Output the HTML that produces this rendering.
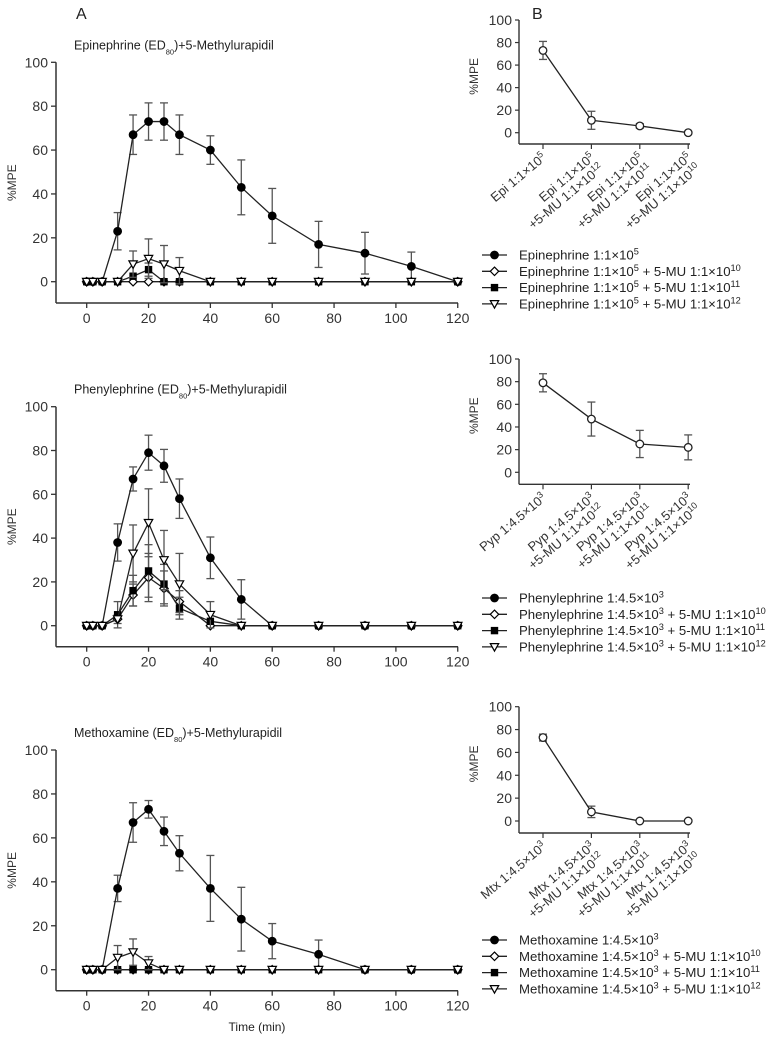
<!DOCTYPE html>
<html><head><meta charset="utf-8"><style>
html,body{margin:0;padding:0;background:#fff;}
svg{display:block;font-family:"Liberation Sans",sans-serif;}
</style></head><body>
<svg id="fig" width="773" height="1037" viewBox="0 0 773 1037"></svg>
<script>
// ---- data ----
const times = [0,2,5,10,15,20,25,30,40,50,60,75,90,105,120];
const xTicks = [0,20,40,60,80,100,120];
const yTicks = [0,20,40,60,80,100];

const epiCtrl   = [0,0,0,23,67,73,73,67,60,43,30,17,13,7,0];
const epiCtrlE  = [0,0,0,8.5,9,8.5,8.5,9,6.5,12.5,12.5,10.5,9.5,6.5,0];
const epi10     = [0,0,0,0,0,0,0,0,0,0,0,0,0,0,0];
const epi10E    = [0,0,0,0,0,0,0,0,0,0,0,0,0,0,0];
const epi11     = [0,0,0,0,2.5,5.5,0,0,0,0,0,0,0,0,0];
const epi11E    = [0,0,0,0,0,3,0,0,0,0,0,0,0,0,0];
const epi12     = [0,0,0,0,8,10.5,8,5,0,0,0,0,0,0,0];
const epi12E    = [0,0,0,0,6,9,8.5,6,0,0,0,0,0,0,0];

const pheCtrl   = [0,0,0,38,67,79,73,58,31,12,0,0,0,0,0];
const pheCtrlE  = [0,0,0,8.5,5.5,8,7.5,9,9.5,9,0,0,0,0,0];
const phe10     = [0,0,0,3,14,22,17,11,0,0,0,0,0,0,0];
const phe10E    = [0,0,0,2,5,11,8,5,0,0,0,0,0,0,0];
const phe11     = [0,0,0,5,16,25,19,8,2,0,0,0,0,0,0];
const phe11E    = [0,0,0,6,7,12,9,5,0,0,0,0,0,0,0];
const phe12     = [0,0,0,3,33,47,30,19,5,0,0,0,0,0,0];
const phe12E    = [0,0,0,0,13,15.5,13.5,14,6,0,0,0,0,0,0];

const mtxCtrl   = [0,0,0,37,67,73,63,53,37,23,13,7,0,0,0];
const mtxCtrlE  = [0,0,0,6,9,4,6.5,8,15,14.5,8,6.5,0,0,0];
const mtx10     = [0,0,0,0,0,0,0,0,0,0,0,0,0,0,0];
const mtx10E    = [0,0,0,0,0,0,0,0,0,0,0,0,0,0,0];
const mtx11     = [0,0,0,0,0,0,0,0,0,0,0,0,0,0,0];
const mtx11E    = [0,0,0,0,0,0,0,0,0,0,0,0,0,0,0];
const mtx12     = [0,0,0,5.5,8,3,0,0,0,0,0,0,0,0,0];
const mtx12E    = [0,0,0,5.5,6,3,0,0,0,0,0,0,0,0,0];

const epiB  = [73,11,6,0];  const epiBE = [8,8,2,0];
const pheB  = [79,47,25,22]; const pheBE = [8,15,12,11];
const mtxB  = [73,8,0,0];   const mtxBE = [3,5,0,0];

// ---- drawing ----
const NS="http://www.w3.org/2000/svg";
const svg=document.getElementById('fig');
function el(tag,attrs,parent){const e=document.createElementNS(NS,tag);for(const k in attrs)e.setAttribute(k,attrs[k]);(parent||svg).appendChild(e);return e;}
function rich(parent,segs){
  segs.forEach(s=>{const t=document.createElementNS(NS,'tspan');t.textContent=s[0];
    if(s[1]==='sup'){t.setAttribute('baseline-shift','super');t.setAttribute('font-size','70%');}
    if(s[1]==='sub'){t.setAttribute('baseline-shift','sub');t.setAttribute('font-size','60%');}
    parent.appendChild(t);});
}
const TXT='#333';
function marker(g,type,x,y){
  let m;
  if(type==='circle'){m=el('circle',{cx:x,cy:y,r:3.9,fill:'#000',stroke:'#000'},g);}
  else if(type==='ocircle'){m=el('circle',{cx:x,cy:y,r:3.8,fill:'#fff',stroke:'#222','stroke-width':1.3},g);}
  else if(type==='diamond'){m=el('polygon',{points:`${x},${y-4.2} ${x+4.2},${y} ${x},${y+4.2} ${x-4.2},${y}`,fill:'#fff',stroke:'#000','stroke-width':1.2},g);}
  else if(type==='square'){m=el('rect',{x:x-3.7,y:y-3.7,width:7.4,height:7.4,fill:'#000'},g);}
  else {m=el('polygon',{points:`${x-4.2},${y-3.3} ${x+4.2},${y-3.3} ${x},${y+4.2}`,fill:'#fff',stroke:'#000','stroke-width':1.2},g);}
  return m;
}
function drawSeries(g,xf,yf,xs,vals,errs,type,name){
  const sg=el('g',{},g);
  
  
  vals.forEach((v,i)=>{ if(errs[i]>0){const x=xf(xs[i]);const y1=yf(v+errs[i]),y2=yf(v-errs[i]);
    el('line',{x1:x,y1:y1,x2:x,y2:y2,stroke:'#555','stroke-width':1.3},sg);
    el('line',{x1:x-4,y1:y1,x2:x+4,y2:y1,stroke:'#555','stroke-width':1.3},sg);
    el('line',{x1:x-4,y1:y2,x2:x+4,y2:y2,stroke:'#555','stroke-width':1.3},sg);}});
  const pts=vals.map((v,i)=>xf(xs[i])+','+yf(v)).join(' ');
  el('polyline',{points:pts,fill:'none',stroke:'#222','stroke-width':1.3},sg);
  vals.forEach((v,i)=>{const m=marker(sg,type,xf(xs[i]),yf(v));
    
    });
}
function panelA(cfg){
  const g=el('g',{});
  
  
  const xf=t=>86.7+t*3.092;
  const yf=v=>cfg.y0-v*(cfg.y0-cfg.y100)/100;
  el('line',{x1:56,y1:cfg.y100,x2:56,y2:cfg.axisY,stroke:'#333','stroke-width':1.5},g);
  el('line',{x1:56,y1:cfg.axisY,x2:458,y2:cfg.axisY,stroke:'#333','stroke-width':1.5},g);
  yTicks.forEach(v=>{el('line',{x1:51,y1:yf(v),x2:56,y2:yf(v),stroke:'#333','stroke-width':1.3},g);
    const t=el('text',{x:48,y:yf(v)+5,'text-anchor':'end','font-size':14,fill:TXT},g);t.textContent=v;
    
    });
  xTicks.forEach(v=>{el('line',{x1:xf(v),y1:cfg.axisY,x2:xf(v),y2:cfg.axisY+5,stroke:'#333','stroke-width':1.3},g);
    const t=el('text',{x:xf(v),y:cfg.axisY+20,'text-anchor':'middle','font-size':14,fill:TXT},g);t.textContent=v;
    
    });
  const yl=el('text',{x:0,y:0,transform:`translate(16,${(cfg.y100+cfg.axisY)/2}) rotate(-90)`,'text-anchor':'middle','font-size':12,fill:TXT},g);yl.textContent='%MPE';
  
  
  const ti=el('text',{x:74,y:cfg.y100-13,'font-size':12.5,fill:'#222'},g);
  rich(ti,[[cfg.drug+' (ED',''],['80','sub'],[')+5-Methylurapidil','']]);
  
  
  const types=['circle','diamond','square','triangle'];
  const names=['series-control','series-5mu-1e10','series-5mu-1e11','series-5mu-1e12'];
  cfg.series.forEach((s,k)=>drawSeries(g,xf,yf,times,s[0],s[1],types[k],names[k]));
}
function panelB(cfg){
  const g=el('g',{});
  
  
  const xf=i=>543+i*48.4;
  const yf=v=>cfg.y0-v*(cfg.y0-cfg.y100)/100;
  el('line',{x1:519,y1:cfg.y100,x2:519,y2:cfg.axisY,stroke:'#333','stroke-width':1.4},g);
  el('line',{x1:519,y1:cfg.axisY,x2:690,y2:cfg.axisY,stroke:'#333','stroke-width':1.4},g);
  yTicks.forEach(v=>{el('line',{x1:515,y1:yf(v),x2:519,y2:yf(v),stroke:'#333','stroke-width':1.2},g);
    const t=el('text',{x:512,y:yf(v)+5,'text-anchor':'end','font-size':14,fill:TXT},g);t.textContent=v;
    
    });
  const yl=el('text',{x:0,y:0,transform:`translate(478,${(cfg.y100+cfg.y0)/2}) rotate(-90)`,'text-anchor':'middle','font-size':12,fill:TXT},g);yl.textContent='%MPE';
  
  
  [0,1,2,3].forEach(i=>{const x=xf(i);
    el('line',{x1:x,y1:cfg.axisY,x2:x,y2:cfg.axisY+5,stroke:'#333','stroke-width':1.2},g);
    const t=el('text',{transform:`translate(${x+4},${cfg.axisY+15}) rotate(-40)`,'text-anchor':'end','font-size':13,fill:TXT},g);
    
    
    const l1=el('tspan',{x:0,y:0},t);rich(l1,[[cfg.abbr+' '+cfg.ratio,''],[cfg.exp,'sup']]);
    if(i>0){const l2=el('tspan',{x:0,y:14},t);rich(l2,[['+5-MU 1:1×10',''],[String(13-i),'sup']]);}
  });
  drawSeries(g,xf,yf,[0,1,2,3],cfg.vals,cfg.errs,'ocircle','b-series');
  const lg=el('g',{},g);
  
  
  const types=['circle','diamond','square','triangle'];
  const suf=['',' + 5-MU 1:1×10',' + 5-MU 1:1×10',' + 5-MU 1:1×10'];
  const ex=['','10','11','12'];
  types.forEach((ty,k)=>{const y=cfg.legY+k*16.3;
    const e=el('g',{},lg);
    
    
    el('line',{x1:482,y1:y,x2:507,y2:y,stroke:'#222','stroke-width':1.3},e);
    marker(e,ty,494.5,y);
    const t=el('text',{x:519,y:y+4.5,'font-size':13.2,fill:'#222'},e);
    const segs=[[cfg.full+' '+cfg.ratio,''],[cfg.exp,'sup']];
    if(k>0){segs.push([suf[k],'']);segs.push([ex[k],'sup']);}
    rich(t,segs);
  });
}
panelA({name:'panel-a-epinephrine',drug:'Epinephrine',y100:62.3,y0:281.7,axisY:303,
  series:[[epiCtrl,epiCtrlE],[epi10,epi10E],[epi11,epi11E],[epi12,epi12E]]});
panelA({name:'panel-a-phenylephrine',drug:'Phenylephrine',y100:406.7,y0:625.7,axisY:646.7,
  series:[[pheCtrl,pheCtrlE],[phe10,phe10E],[phe11,phe11E],[phe12,phe12E]]});
panelA({name:'panel-a-methoxamine',drug:'Methoxamine',y100:750,y0:969.7,axisY:990.7,
  series:[[mtxCtrl,mtxCtrlE],[mtx10,mtx10E],[mtx11,mtx11E],[mtx12,mtx12E]]});
panelB({name:'panel-b-epinephrine',abbr:'Epi',full:'Epinephrine',ratio:'1:1×10',exp:'5',y100:20,y0:132.7,axisY:144,legY:255,vals:epiB,errs:epiBE});
panelB({name:'panel-b-phenylephrine',abbr:'Pyp',full:'Phenylephrine',ratio:'1:4.5×10',exp:'3',y100:359,y0:472.3,axisY:484.3,legY:598,vals:pheB,errs:pheBE});
panelB({name:'panel-b-methoxamine',abbr:'Mtx',full:'Methoxamine',ratio:'1:4.5×10',exp:'3',y100:706.7,y0:821,axisY:833,legY:940,vals:mtxB,errs:mtxBE});
const A=el('text',{x:76,y:19,'font-size':16,fill:'#222'});A.textContent='A';


const B=el('text',{x:532,y:19,'font-size':16,fill:'#222'});B.textContent='B';


const xt=el('text',{x:257,y:1031,'text-anchor':'middle','font-size':12,fill:'#222'});xt.textContent='Time (min)';


</script>
</body></html>
